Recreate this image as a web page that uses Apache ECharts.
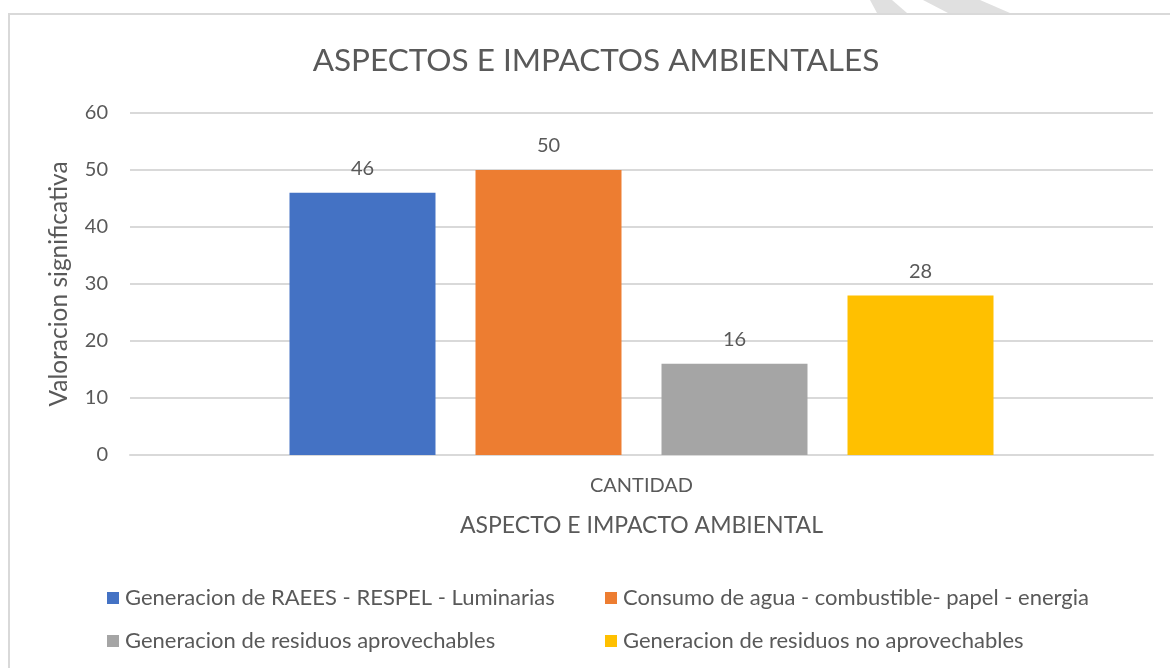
<!DOCTYPE html>
<html lang="es">
<head>
<meta charset="utf-8">
<title>Aspectos e impactos ambientales</title>
<script src="https://cdn.jsdelivr.net/npm/echarts@6/dist/echarts.min.js"></script>
<style>
  html, body { margin: 0; padding: 0; background: #fff; }
  #chart { width: 1170px; height: 668px; }
</style>
</head>
<body>
<div id="chart"></div>
<script>
var categories = ['CANTIDAD'];
var seriesNames = [
  'Generacion de RAEES - RESPEL - Luminarias',
  'Consumo de agua - combustible- papel - energia',
  'Generacion de residuos aprovechables',
  'Generacion de residuos no aprovechables'
];
var seriesValues = [[46], [50], [16], [28]];
var seriesColors = ['#4472C4', '#ED7D31', '#A5A5A5', '#FFC000'];

var txt = '#595959';
var font = 'Lato';

var series = seriesNames.map(function (name, i) {
  return {
    name: name,
    type: 'bar',
    data: seriesValues[i],
    barWidth: 146,
    barGap: '27.4%',
    itemStyle: { color: seriesColors[i] },
    label: {
      show: true,
      position: 'top',
      distance: 14,
      color: txt,
      fontFamily: font,
      fontSize: 20
    }
  };
});

var legendText = { color: txt, fontFamily: font, fontSize: 22, padding: [0, 0, 0, 1] };

var option = {
  animation: false,
  backgroundColor: '#fff',
  title: {
    text: 'ASPECTOS E IMPACTOS AMBIENTALES',
    left: 591,
    textAlign: 'center',
    top: 40,
    textStyle: { color: txt, fontFamily: font, fontSize: 31.5, fontWeight: 'normal' }
  },
  legend: [
    {
      data: [seriesNames[0], seriesNames[2]],
      orient: 'vertical',
      left: 102,
      top: 582,
      itemWidth: 12,
      itemHeight: 12,
      itemGap: 21,
      icon: 'rect',
      textStyle: legendText
    },
    {
      data: [seriesNames[1], seriesNames[3]],
      orient: 'vertical',
      left: 600,
      top: 582,
      itemWidth: 12,
      itemHeight: 12,
      itemGap: 21,
      icon: 'rect',
      textStyle: legendText
    }
  ],
  grid: { left: 130, right: 17, top: 113, bottom: 213 },
  xAxis: {
    type: 'category',
    data: categories,
    name: 'ASPECTO E IMPACTO AMBIENTAL',
    nameLocation: 'middle',
    nameGap: 59,
    nameTextStyle: { color: txt, fontFamily: font, fontSize: 23 },
    axisLine: { lineStyle: { color: '#d9d9d9', width: 2 } },
    axisTick: { show: false },
    axisLabel: { color: txt, fontFamily: font, fontSize: 20, margin: 21 }
  },
  yAxis: {
    type: 'value',
    min: 0,
    max: 60,
    interval: 10,
    name: 'Valoracion significativa',
    nameLocation: 'middle',
    nameGap: 58,
    nameTextStyle: { color: txt, fontFamily: font, fontSize: 24.5 },
    axisLine: { show: false },
    axisTick: { show: false },
    axisLabel: { color: txt, fontFamily: font, fontSize: 20, margin: 22 },
    splitLine: { lineStyle: { color: '#d9d9d9', width: 2 } }
  },
  graphic: [
    {
      type: 'rect',
      shape: { x: 9, y: 14, width: 1200, height: 700 },
      style: { fill: null, stroke: '#d9d9d9', lineWidth: 2 },
      silent: true
    },
    {
      type: 'polygon',
      shape: { points: [[870, 0], [892, 0], [907, 13], [877, 13]] },
      style: { fill: '#e0e0e0' },
      silent: true
    },
    {
      type: 'polygon',
      shape: { points: [[923, 0], [980, 0], [1010, 13], [948, 13]] },
      style: { fill: '#e0e0e0' },
      silent: true
    }
  ],
  series: series
};

var myChart = echarts.init(document.getElementById('chart'));
myChart.setOption(option);
</script>
</body>
</html>
